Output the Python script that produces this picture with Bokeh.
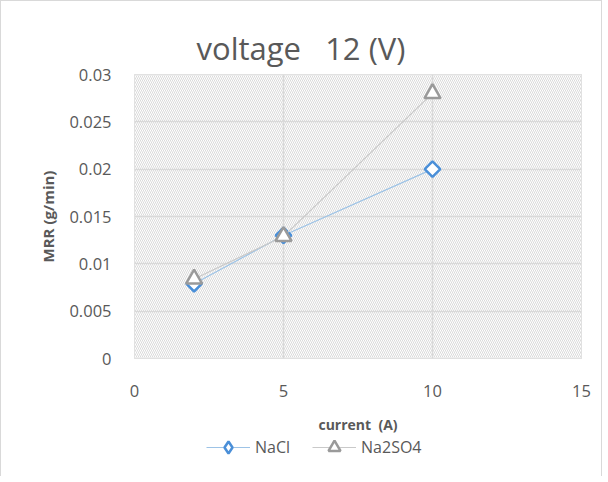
import math
from bokeh.plotting import figure
from bokeh.layouts import column
from bokeh.models import BoxAnnotation, Legend, LegendItem, FixedTicker, Range1d
from bokeh.embed import file_html
from bokeh.resources import INLINE

# data
current = [2, 5, 10]
nacl = [0.0079, 0.013, 0.020]
na2so4 = [0.0084, 0.0129, 0.028]
x_ticks = [0, 5, 10, 15]
y_ticks = [0, 0.005, 0.01, 0.015, 0.02, 0.025, 0.03]
y_tick_labels = {0: "0", 0.005: "0.005", 0.01: "0.01", 0.015: "0.015",
                 0.02: "0.02", 0.025: "0.025", 0.03: "0.03"}
series_names = ["NaCl", "Na2SO4"]
title_text = "voltage \u00a0 12 (V)"
x_label = "current \u00a0(A)"
y_label = "MRR (g/min)"

FONT = "Open Sans"
TXT = "#595959"
BLUE_LINE, BLUE_MARK = "#9dc3e6", "#4a8fd8"
GRAY_LINE, GRAY_MARK = "#c9c9c9", "#9a9a9a"

p = figure(frame_width=447, frame_height=284, output_backend="svg", toolbar_location=None,
           x_range=Range1d(0, 15), y_range=Range1d(0, 0.03),
           min_border_left=133, min_border_right=20, min_border_top=73, min_border_bottom=0,
           title=title_text)
p.outline_line_color = "#d9d9d9"
p.background_fill_color = "white"
p.border_fill_color = "white"

p.title.align = "left"
p.title.offset = 62
p.title.text_font = FONT
p.title.text_font_size = "31px"
p.title.text_font_style = "normal"
p.title.text_color = TXT
p.title.standoff = 12

# hatched plot area
hatch = BoxAnnotation(left=0, right=15, bottom=0, top=0.03, fill_color="white", fill_alpha=1,
                      line_color=None, hatch_pattern="\\", hatch_color="#dadada",
                      hatch_scale=4, hatch_weight=1, level="image")
p.add_layout(hatch)

for g in p.grid:
    g.grid_line_color = "#d9d9d9"
    g.grid_line_width = 1.5
p.xgrid.ticker = FixedTicker(ticks=x_ticks)
p.ygrid.ticker = FixedTicker(ticks=y_ticks)

p.xaxis.ticker = FixedTicker(ticks=x_ticks)
p.yaxis.ticker = FixedTicker(ticks=y_ticks)
p.yaxis.major_label_overrides = y_tick_labels
for ax in (p.xaxis, p.yaxis):
    ax.axis_line_color = None
    ax.major_tick_line_color = None
    ax.minor_tick_line_color = None
    ax.major_label_text_font = FONT
    ax.major_label_text_font_size = "16.5px"
    ax.major_label_text_color = TXT
    ax.axis_label_text_font = FONT
    ax.axis_label_text_font_style = "bold"
    ax.axis_label_text_color = TXT
p.xaxis.axis_label_text_font_size = "14px"
p.yaxis.axis_label_text_font_size = "15px"
p.xaxis.major_label_standoff = 20
p.yaxis.major_label_standoff = 17
p.xaxis.axis_label = x_label
p.yaxis.axis_label = y_label
p.xaxis.axis_label_standoff = 15
p.yaxis.axis_label_standoff = 8


def draw(fig, x, y, line_color, mark_color, marker, legend_strip=False):
    ln = fig.line(x, y, line_color=line_color, line_width=1.2)
    if marker == "diamond":
        if legend_strip:
            mk = fig.scatter(x, y, marker="diamond", size=15, fill_color="white",
                             line_color=mark_color, line_width=2.5)
        else:
            mk = fig.scatter(x, y, marker="square", size=11, angle=math.pi / 4,
                             fill_color="white", line_color=mark_color, line_width=2.5)
    else:
        mk = fig.scatter(x, y, marker="triangle", size=16 if not legend_strip else 13,
                         fill_color="white", line_color=mark_color, line_width=2.5)
    return ln, mk


draw(p, current, nacl, BLUE_LINE, BLUE_MARK, "diamond")
draw(p, current, na2so4, GRAY_LINE, GRAY_MARK, "triangle")

# legend strip below the chart (its own small figure; data kept outside its view)
lf = figure(width=600, height=40, output_backend="svg", toolbar_location=None,
            x_range=Range1d(100, 101), y_range=Range1d(100, 101),
            x_axis_type=None, y_axis_type=None, min_border=0)
lf.outline_line_color = None
lf.grid.visible = False
lf.background_fill_color = "white"
lf.border_fill_color = "white"
la = draw(lf, current, nacl, BLUE_LINE, BLUE_MARK, "diamond", legend_strip=True)
lb = draw(lf, current, na2so4, GRAY_LINE, GRAY_MARK, "triangle", legend_strip=True)
legend = Legend(items=[LegendItem(label=series_names[0], renderers=list(la)),
                       LegendItem(label=series_names[1], renderers=list(lb))],
                orientation="horizontal", location=(72, 14),
                label_text_font=FONT, label_text_font_size="16px", label_text_color=TXT,
                border_line_color=None, background_fill_alpha=0,
                glyph_width=44, glyph_height=30, spacing=22, padding=0, margin=0,
                label_standoff=5)
lf.add_layout(legend)

layout = column(p, lf, spacing=0)
layout.styles = {"border": "1px solid #d9d9d9", "border-bottom": "none"}

open("out.html", "w").write(file_html(layout, INLINE))
